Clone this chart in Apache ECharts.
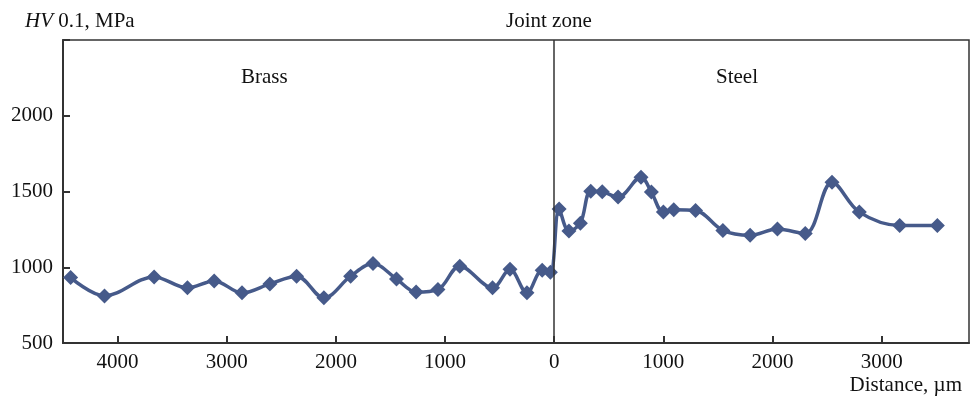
<!DOCTYPE html>
<html>
<head>
<meta charset="utf-8">
<script src="https://cdn.jsdelivr.net/npm/echarts@6/dist/echarts.min.js"></script>
<style>html,body{margin:0;padding:0;background:#fff}#c{width:971px;height:399px}</style>
</head>
<body>
<div id="c"></div>
<script>
// Distance (µm, negative = brass side), hardness HV0.1 (MPa)
const distance = [-4430,-4120,-3665,-3360,-3115,-2860,-2605,-2360,-2110,-1865,-1660,-1445,-1265,-1065,-865,-565,-405,-250,-110,-35,
  45,135,240,335,440,585,795,890,1000,1095,1295,1545,1795,2045,2300,2545,2795,3165,3510];
const hardness = [932,811,936,864,910,831,890,941,798,941,1024,923,837,853,1007,864,987,831,980,967,
  1384,1239,1291,1502,1498,1463,1594,1496,1364,1380,1375,1243,1211,1252,1222,1561,1364,1276,1276];
const xTicks = [-4000,-3000,-2000,-1000,0,1000,2000,3000];
const yTicks = [500,1000,1500,2000];
const regionLabels = ['Brass','Steel'];

const font = '"Liberation Serif", "DejaVu Serif", serif';
const ink = '#333333';
const fs = 21;
const chart = echarts.init(document.getElementById('c'), null, {renderer:'canvas'});
chart.setOption({
  animation:false,
  backgroundColor:'#fff',
  textStyle:{fontFamily:font},
  grid:{left:63,right:2,top:40,bottom:56,show:true,borderColor:ink,borderWidth:1.5,backgroundColor:'transparent'},
  title:[
    {text:'{i|HV} 0.1, MPa',left:20,top:6,textStyle:{fontFamily:font,fontSize:fs,fontWeight:'normal',color:'#111',
      rich:{i:{fontStyle:'italic',fontFamily:font,fontSize:fs,color:'#111'}}}},
    {text:'Joint zone',left:501,top:6,textStyle:{fontFamily:font,fontSize:fs,fontWeight:'normal',color:'#111'}},
    {text:'Distance, µm',right:4,top:370,textStyle:{fontFamily:font,fontSize:fs,fontWeight:'normal',color:'#111'}}
  ],
  graphic:[
    {type:'text',left:241,top:67,style:{text:regionLabels[0],font:fs+'px '+font,fill:'#111'}},
    {type:'text',left:716,top:67,style:{text:regionLabels[1],font:fs+'px '+font,fill:'#111'}}
  ],
  xAxis:{type:'value',min:-4500,max:3800,
    axisLine:{onZero:false,lineStyle:{color:ink,width:2}},
    axisTick:{inside:true,length:7,lineStyle:{color:ink,width:2},customValues:xTicks},
    axisLabel:{customValues:xTicks,formatter:v=>String(Math.abs(v)),fontFamily:font,fontSize:fs,color:'#111',margin:9},
    splitLine:{show:false}},
  yAxis:{type:'value',min:500,max:2500,interval:500,
    axisLine:{show:true,onZero:false,lineStyle:{color:ink,width:2}},
    axisTick:{show:true,inside:true,length:7,lineStyle:{color:ink,width:2}},
    axisLabel:{formatter:v=>yTicks.includes(v)?String(v):'',fontFamily:font,fontSize:fs,color:'#111',margin:10},
    splitLine:{show:false}},
  series:[{
    type:'line',
    data:distance.map((d,i)=>[d,hardness[i]]),
    smooth:0.35,
    symbol:'diamond',symbolSize:15,
    lineStyle:{color:'#465a8a',width:3.5},
    itemStyle:{color:'#465a8a'},
    markLine:{silent:true,symbol:'none',label:{show:false},
      lineStyle:{color:ink,width:1.5,type:'solid'},data:[{xAxis:0}]},
    z:3
  }]
});
</script>
</body>
</html>
